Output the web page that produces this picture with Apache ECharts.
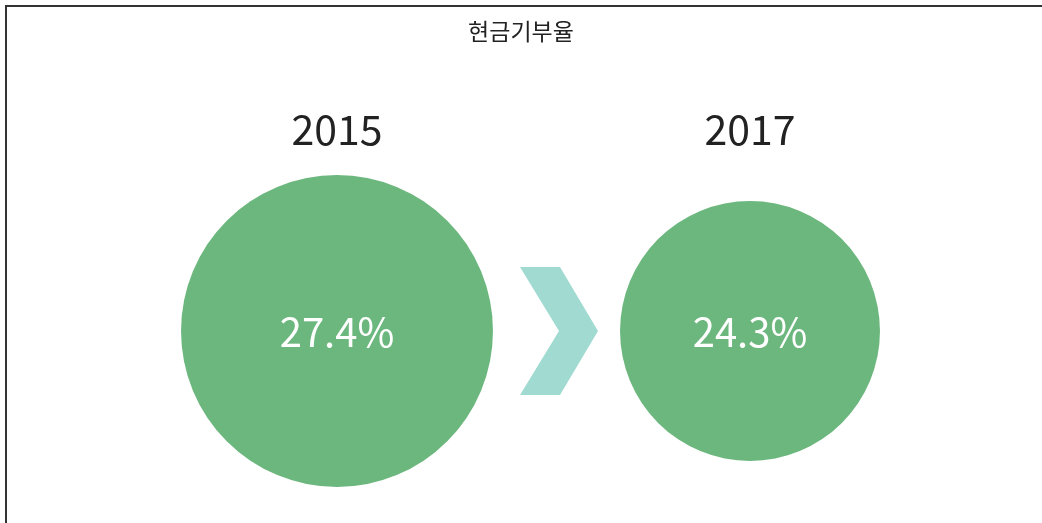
<!DOCTYPE html>
<html>
<head>
<meta charset="utf-8">
<script src="https://cdn.jsdelivr.net/npm/echarts@6/dist/echarts.min.js"></script>
<style>
  html, body { margin: 0; padding: 0; background: #fff; overflow: hidden; }
  #frame { position: absolute; left: 5px; top: 5px; width: 1100px; height: 600px; border: 2px solid #333; box-sizing: border-box; }
  #chart { position: absolute; left: 0; top: 0; width: 1042px; height: 523px; }
</style>
</head>
<body>
<div id="frame"></div>
<div id="chart"></div>
<script>
const years = ["2015", "2017"];
const values = [27.4, 24.3];

// circle diameter grows with the rate
function sizeOf(v) {
  return (v - 8.8) * 16.77;
}

const chart = echarts.init(document.getElementById("chart"));
const option = {
  animation: false,
  title: {
    text: "현금기부율",
    left: "center",
    top: 15,
    textStyle: {
      fontFamily: "Noto Sans CJK KR",
      fontSize: 23,
      fontWeight: "normal",
      color: "#222",
    },
  },
  grid: {
    left: 130.5,
    right: 85.5,
    top: 160,
    bottom: 21,
  },
  xAxis: {
    type: "category",
    position: "top",
    data: years,
    axisLine: { show: false },
    axisTick: { show: false },
    splitLine: { show: false },
    axisLabel: {
      margin: 10,
      fontFamily: "Noto Sans CJK KR",
      fontSize: 41,
      color: "#222",
    },
  },
  yAxis: {
    type: "value",
    min: 0,
    max: 2,
    show: false,
  },
  series: [
    {
      type: "scatter",
      data: years.map((y, i) => [y, 1, values[i]]),
      symbolSize: (d) => sizeOf(d[2]),
      itemStyle: { color: "#6cb77d", opacity: 1 },
      label: {
        show: true,
        position: "inside",
        offset: [0, 1],
        formatter: (p) => p.value[2].toFixed(1) + "%",
        fontFamily: "Noto Sans CJK KR",
        fontSize: 40,
        color: "#fff",
      },
    },
  ],
  graphic: [
    {
      type: "polygon",
      shape: {
        points: [
          [520, 267], [560, 267], [598, 331], [560, 395], [520, 395], [559, 331],
        ],
      },
      style: { fill: "#a0dad0" },
    },
  ],
};
chart.setOption(option);
</script>
</body>
</html>
